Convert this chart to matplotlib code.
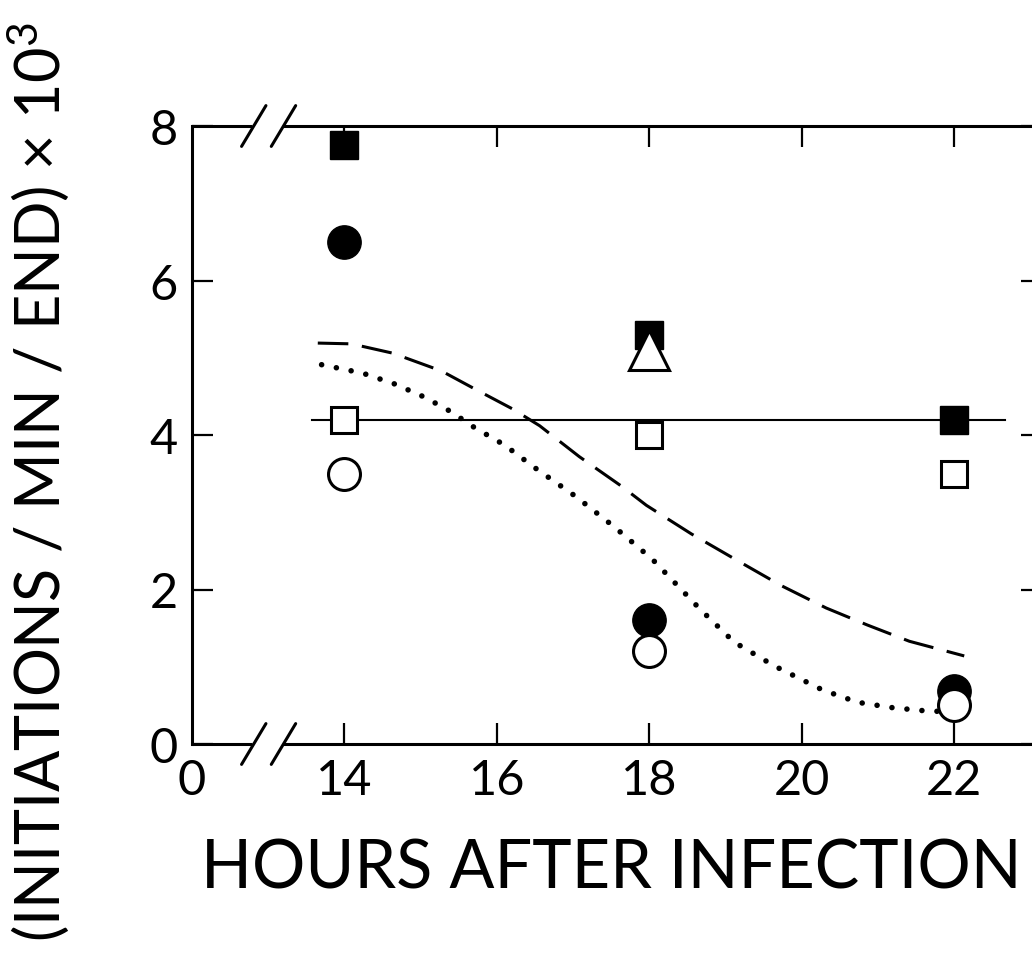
import matplotlib
matplotlib.use("Agg")
import matplotlib.pyplot as plt
import matplotlib.transforms as mtransforms

plt.rcParams["font.family"] = ["Lato", "DejaVu Sans"]
plt.rcParams["mathtext.fontset"] = "custom"
plt.rcParams["mathtext.rm"] = "Lato"
plt.rcParams["mathtext.default"] = "rm"

# measured points (hours after infection, initiations/min/end x 10^3)
hours = [14, 18, 22]
filled_sq = [7.75, 5.3, 4.2]
filled_circ = [6.5, 1.6, 0.68]
open_sq = [4.2, 4.0, 3.5]
open_circ = [3.5, 1.2, 0.5]
tri_x = [18]
tri_y = [5.1]

# horizontal reference line
hline_x = [13.57, 22.66]
hline_y = [4.2, 4.2]

# dashed curve
dash_x = [13.65, 14.09, 14.63, 15.27, 15.74, 16.20, 16.56, 17.08, 17.63, 17.96,
          18.55, 19.18, 19.73, 20.32, 20.86, 21.41, 22.13]
dash_y = [5.19, 5.18, 5.06, 4.83, 4.58, 4.34, 4.12, 3.72, 3.34, 3.09,
          2.72, 2.36, 2.05, 1.76, 1.54, 1.33, 1.14]

# dotted curve
dot_x = [13.70, 14.24, 14.66, 15.05, 15.40, 15.70, 16.10, 16.52, 17.04, 17.54,
         18.04, 18.37, 18.66, 19.11, 19.64, 20.27, 20.73, 21.19, 21.61, 21.85]
dot_y = [4.91, 4.80, 4.66, 4.49, 4.30, 4.10, 3.87, 3.56, 3.20, 2.81,
         2.39, 2.05, 1.75, 1.32, 1.01, 0.70, 0.54, 0.47, 0.43, 0.42]

xticks = [12, 14, 16, 18, 20, 22]
xticklabels = ["0", "14", "16", "18", "20", "22"]
yticks = [0, 2, 4, 6, 8]
yticklabels = ["0", "2", "4", "6", "8"]

W, H = 1032, 954
fig = plt.figure(figsize=(W / 100, H / 100), dpi=100)
ax = fig.add_axes([192 / W, (H - 745) / H, 850 / W, 618 / H])
ax.set_xlim(12, 23.15)
ax.set_ylim(0, 8)

ax.plot(hline_x, hline_y, color="black", lw=1.5, zorder=2)
ax.plot(dash_x, dash_y, color="black", lw=2.2, linestyle=(0, (10, 4.5)), zorder=2)
ax.plot(dot_x, dot_y, color="black", lw=4, linestyle=(0, (0.01, 2.7)),
        dash_capstyle="round", zorder=2)

ax.plot(hours, filled_sq, "s", ms=20, color="black", mec="black", zorder=3)
ax.plot(tri_x, tri_y, "^", ms=29, mfc="white", mec="black", mew=2.2, zorder=4)
ax.plot(hours, open_sq, "s", ms=19, mfc="white", mec="black", mew=2.2, zorder=3)
ax.plot(hours, filled_circ, "o", ms=24, color="black", zorder=3)
ax.plot(hours, open_circ, "o", ms=23, mfc="white", mec="black", mew=2.2, zorder=4)

# spines with axis breaks
for s in ["top", "bottom"]:
    ax.spines[s].set_visible(False)
ax.spines["left"].set_linewidth(2.2)
ax.spines["right"].set_linewidth(2.2)
trans = mtransforms.blended_transform_factory(ax.transData, ax.transAxes)
for yy in [0, 1]:
    ax.plot([12, 12.79], [yy, yy], color="black", lw=2.2, transform=trans,
            clip_on=False, solid_capstyle="butt")
    ax.plot([13.19, 23.15], [yy, yy], color="black", lw=2.2, transform=trans,
            clip_on=False, solid_capstyle="butt")
    for xc in [12.81, 13.2]:
        ax.plot([xc - 0.16, xc + 0.16], [yy - 0.033, yy + 0.033], color="black",
                lw=2.2, transform=trans, clip_on=False, solid_capstyle="round")

ax.set_xticks(xticks)
ax.set_xticklabels(xticklabels)
ax.set_yticks(yticks)
ax.set_yticklabels(yticklabels)
ax.tick_params(direction="in", length=15, width=1.6, top=True, right=True,
               labelsize=35, pad=10)
ax.xaxis.get_major_ticks()[0].tick1line.set_visible(False)
ax.xaxis.get_major_ticks()[0].tick2line.set_visible(False)

fig.text(611 / W, 1 - 870 / H, "HOURS AFTER INFECTION", fontsize=48,
         ha="center", va="center")
fig.text(38 / W, 1 - 482 / H, "(INITIATIONS / MIN / END) \u00d7 10$^3$", fontsize=44,
         rotation=90, ha="center", va="center")

fig.savefig("out.png", dpi=100)
